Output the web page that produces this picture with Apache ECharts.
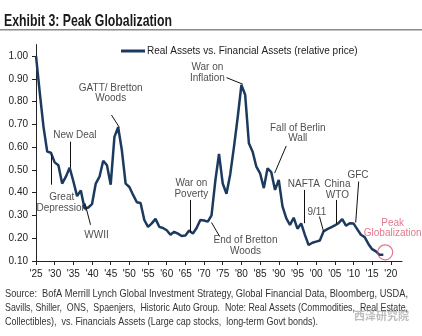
<!DOCTYPE html>
<html>
<head>
<meta charset="utf-8">
<script src="https://cdn.jsdelivr.net/npm/echarts@6/dist/echarts.min.js"></script>
<style>
  html, body { margin: 0; padding: 0; background: #fff; }
  #chart { width: 422px; height: 336px; }
</style>
</head>
<body>
<div id="chart"></div>
<script>
// Relative price of real assets vs. financial assets, annual
const years = [];
for (let y = 1925; y <= 2018; y++) years.push(y);
const relativePrice = [
  1.00, 0.84, 0.69, 0.58, 0.575, 0.533, 0.52, 0.44, 0.47, 0.51,
  0.45, 0.385, 0.41, 0.33, 0.335, 0.35, 0.44, 0.47, 0.54, 0.52,
  0.435, 0.645, 0.687, 0.585, 0.44, 0.425, 0.39, 0.358, 0.355, 0.28,
  0.25, 0.265, 0.285, 0.25, 0.245, 0.235, 0.215, 0.228, 0.22, 0.21,
  0.212, 0.234, 0.22, 0.245, 0.28, 0.278, 0.273, 0.30, 0.45, 0.57,
  0.44, 0.395, 0.48, 0.60, 0.73, 0.873, 0.83, 0.617, 0.58, 0.514,
  0.485, 0.42, 0.507, 0.49, 0.412, 0.456, 0.34, 0.288, 0.258, 0.29,
  0.242, 0.265, 0.215, 0.17, 0.18, 0.185, 0.19, 0.23, 0.24, 0.248,
  0.256, 0.266, 0.284, 0.255, 0.266, 0.265, 0.24, 0.215, 0.205, 0.175,
  0.152, 0.142, 0.127, 0.127
];

const yTicks = [0.1, 0.2, 0.3, 0.4, 0.5, 0.6, 0.7, 0.8, 0.9, 1.0];
const xTicks = [];
for (let y = 1925; y <= 2020; y += 5) xTicks.push(y);

// Event annotations: text, text anchor [year, value], leader line from / to
const eventText = ['Great\nDepression', 'New Deal', 'WWII', 'GATT/ Bretton\nWoods', 'War on\nPoverty',
  'End of Bretton\nWoods', 'War on\nInflation', 'Fall of Berlin\nWall', 'NAFTA', '9/11', 'China\nWTO', 'GFC'];
const eventAnchor = [[1931.9, 0.355], [1935.4, 0.65], [1941.2, 0.215], [1945.0, 0.836], [1966.6, 0.417],
  [1981.1, 0.167], [1970.9, 0.927], [1995.1, 0.66], [1996.7, 0.439], [2000.2, 0.316], [2005.7, 0.412], [2011.2, 0.475]];
const eventLeaderFrom = [[1929.2, 0.565], [1934.3, 0.624], [1938.1, 0.354], [1945.2, 0.741], [1966.4, 0.368],
  [1972.0, 0.269], [1976.0, 0.905], [1992.0, 0.605], [1996.8, 0.412], [2000.9, 0.295], [2005.4, 0.368], [2011.4, 0.449]];
const eventLeaderTo = [[1929.2, 0.435], [1934.3, 0.51], [1939.6, 0.259], [1947.3, 0.687], [1966.4, 0.225],
  [1974.2, 0.207], [1980.4, 0.876], [1988.9, 0.486], [1996.8, 0.266], [2002.0, 0.229], [2005.4, 0.263], [2010.6, 0.269]];

const peakText = 'Peak\nGlobalization';
const peakAnchor = [2020.5, 0.244];
const peakCircle = [2018.5, 0.138];

const titleText = 'Exhibit 3: Peak Globalization';
const sourceLines = [
  'Source:  BofA Merrill Lynch Global Investment Strategy, Global Financial Data, Bloomberg, USDA,',
  'Savills, Shiller,  ONS,  Spaenjers,  Historic Auto Group.  Note: Real Assets (Commodities,  Real Estate,',
  'Collectibles),  vs. Financials Assets (Large cap stocks,  long-term Govt bonds).'
];
const sourceLineWidths = [403, 403, 313];
const watermarkText = '西泽研究院';

const navy = '#1c3a5e';
const pink = '#d9566e';
const labelFont = '"Liberation Sans", Arial, sans-serif';
const titleFont = 'bold 16.5px "Liberation Sans", Arial, sans-serif';
const sourceFont = '10.5px "Liberation Sans", Arial, sans-serif';

// The title and footnote are set in a condensed face; emulate it by
// horizontally squeezing a regular sans to the wanted line width.
const measureCtx = document.createElement('canvas').getContext('2d');
function textWidth(font, s) { measureCtx.font = font; return measureCtx.measureText(s).width; }
const titleScale = 168 / textWidth(titleFont, titleText);

const chart = echarts.init(document.getElementById('chart'), null, { renderer: 'canvas' });

chart.setOption({
  animation: false,
  backgroundColor: '#fff',
  legend: {
    left: 116, top: 41,
    icon: 'rect', itemWidth: 24, itemHeight: 3, itemGap: 4,
    data: ['Real Assets vs. Financial Assets (relative price)'],
    textStyle: { fontFamily: labelFont, fontSize: 10, color: '#222', padding: [0, 0, 0, -3] }
  },
  grid: { left: 36, right: 20, top: 44.6, bottom: 75 },
  xAxis: {
    type: 'value', min: 1925, max: 2023,
    axisLine: { lineStyle: { color: '#222', width: 1 } },
    axisTick: { show: true, length: 4, customValues: xTicks, lineStyle: { color: '#222' } },
    axisLabel: {
      customValues: xTicks, margin: 8,
      fontFamily: labelFont, fontSize: 10, color: '#222',
      formatter: v => "'" + String(v % 100).padStart(2, '0')
    },
    splitLine: { show: false }
  },
  yAxis: {
    type: 'value', min: 0.1, max: 1.05,
    axisLine: { show: true, lineStyle: { color: '#222', width: 1 } },
    axisTick: { show: true, length: 4, customValues: yTicks, lineStyle: { color: '#222' } },
    axisLabel: {
      customValues: yTicks, margin: 8,
      fontFamily: labelFont, fontSize: 10, color: '#222',
      formatter: v => v.toFixed(2)
    },
    splitLine: { show: false }
  },
  series: [
    {
      name: 'Real Assets vs. Financial Assets (relative price)',
      type: 'line',
      data: years.map((y, i) => [y, relativePrice[i]]),
      showSymbol: false,
      lineStyle: { color: navy, width: 2.5 },
      itemStyle: { color: navy },
      z: 3,
      markLine: {
        silent: true, symbol: 'none',
        lineStyle: { color: '#111', width: 1, type: 'solid' },
        label: { show: false },
        data: eventLeaderFrom.map((f, i) => [{ coord: f }, { coord: eventLeaderTo[i] }])
      }
    },
    {
      type: 'scatter',
      data: eventAnchor.map((a, i) => [a[0], a[1], eventText[i]]),
      symbolSize: 0,
      silent: true,
      label: {
        show: true, position: 'inside',
        formatter: p => p.data[2],
        fontFamily: labelFont, fontSize: 10, lineHeight: 10.5, color: '#222', align: 'center'
      },
      z: 4
    },
    {
      type: 'scatter',
      data: [[peakAnchor[0], peakAnchor[1], peakText]],
      symbolSize: 0,
      silent: true,
      label: {
        show: true, position: 'inside',
        formatter: p => p.data[2],
        fontFamily: labelFont, fontSize: 10, lineHeight: 10.5, color: pink, align: 'center'
      },
      z: 4
    },
    {
      type: 'scatter',
      data: [peakCircle],
      symbol: 'circle', symbolSize: 15,
      silent: true,
      itemStyle: { color: 'rgba(0,0,0,0)', borderColor: pink, borderWidth: 1.2 },
      z: 5
    }
  ],
  graphic: [
    {
      type: 'text', x: 4, y: 21, scaleX: titleScale,
      style: { text: titleText, font: titleFont, fill: '#1a1a1a', verticalAlign: 'middle' }
    },
    { type: 'rect', shape: { x: 0, y: 29, width: 422, height: 1.4 }, style: { fill: '#8a8a8a' } },
    ...sourceLines.map((s, i) => ({
      type: 'text', x: 5, y: 294 + i * 14.3,
      scaleX: sourceLineWidths[i] / textWidth(sourceFont, s),
      style: { text: s, font: sourceFont, fill: '#333', verticalAlign: 'middle' }
    })),
    {
      type: 'text', x: 354, y: 316,
      style: { text: watermarkText, font: 'bold 11px "Noto Sans CJK SC", sans-serif', fill: 'rgba(110,110,110,0.45)', verticalAlign: 'middle' }
    }
  ]
});
</script>
</body>
</html>
